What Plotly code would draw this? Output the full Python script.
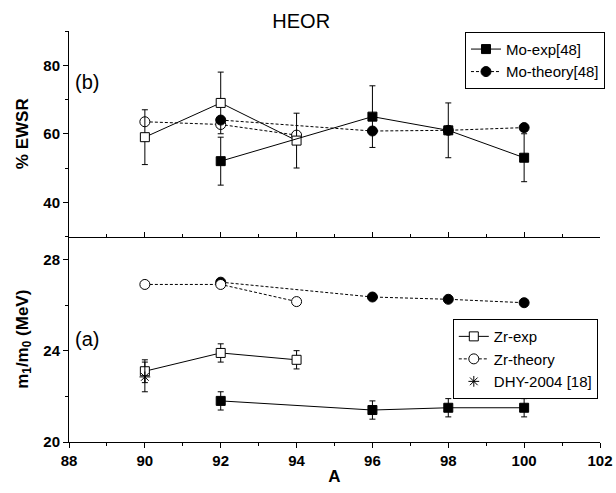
import plotly.graph_objects as go

# ---- data ----
# top panel: % EWSR
zr_A = [90, 92, 94]
zr_ewsr_exp = [59, 69, 58]
zr_ewsr_err = [8, 9, 8]
zr_ewsr_th = [63.5, 62.7, 59.6]

mo_A = [92, 96, 98, 100]
mo_ewsr_exp = [52, 65, 61, 53]
mo_ewsr_err = [7, 9, 8, 7]
mo_ewsr_th = [64, 60.8, 61, 61.8]

# bottom panel: m1/m0 (MeV)
zr_m_exp = [23.1, 23.9, 23.6]
zr_m_err = [0.5, 0.4, 0.4]
zr_m_th = [26.9, 26.9, 26.15]

mo_m_exp = [21.8, 21.4, 21.5, 21.5]
mo_m_err = [0.4, 0.4, 0.4, 0.4]
mo_m_th = [27.0, 26.35, 26.25, 26.1]

dhy_A = [90]
dhy_m = [22.85]
dhy_err = [0.65]

x_ticks = [88, 90, 92, 94, 96, 98, 100, 102]
ewsr_ticks = [40, 60, 80]
m_ticks = [20, 24, 28]

FONT = "Liberation Sans"
BLK = "black"
DASH = "3px,2px"

fig = go.Figure()


def add(x, y, err, sym, fill, dash, name, legend, show, ax):
    fig.add_trace(go.Scatter(
        x=x, y=y, mode="lines+markers", name=name,
        legendgroup=name, showlegend=show, legend=legend,
        line=dict(color=BLK, width=1, dash=dash),
        marker=dict(symbol=sym, size=9 if "square" in sym else 10, color=fill,
                    line=dict(color=BLK, width=1)),
        error_y=dict(type="data", array=err, visible=err is not None,
                     color=BLK, thickness=1, width=3),
        xaxis="x" if ax == "bot" else "x2",
        yaxis="y" if ax == "bot" else "y2",
    ))


# top panel
add(zr_A, zr_ewsr_th, None, "circle", "white", DASH, "Zr-theory", "legend2", False, "top")
add(mo_A, mo_ewsr_th, None, "circle", BLK, DASH, "Mo-theory[48]", "legend", False, "top")
add(zr_A, zr_ewsr_exp, zr_ewsr_err, "square", "white", "solid", "Zr-exp", "legend2", False, "top")
add(mo_A, mo_ewsr_exp, mo_ewsr_err, "square", BLK, "solid", "Mo-exp[48]", "legend", False, "top")

# bottom panel
add(mo_A, mo_m_exp, mo_m_err, "square", BLK, "solid", "Mo-exp[48]", "legend", True, "bot")
add(mo_A, mo_m_th, None, "circle", BLK, DASH, "Mo-theory[48]", "legend", True, "bot")
add(zr_A, zr_m_exp, zr_m_err, "square", "white", "solid", "Zr-exp", "legend2", True, "bot")
add(zr_A, zr_m_th, None, "circle", "white", DASH, "Zr-theory", "legend2", True, "bot")

fig.add_trace(go.Scatter(
    x=dhy_A, y=dhy_m, mode="markers", name="DHY-2004 [18]", legend="legend2",
    marker=dict(symbol="asterisk-open", size=9, color=BLK, line=dict(color=BLK, width=1)),
    error_y=dict(type="data", array=dhy_err, color=BLK, thickness=1, width=3),
    xaxis="x", yaxis="y",
))


def bold(vals):
    return ["<b>%d</b>" % v for v in vals]


tickfont = dict(family=FONT, size=15, color=BLK)
axis_common = dict(showline=True, linecolor=BLK, linewidth=1, showgrid=False,
                   zeroline=False, ticklen=5, tickwidth=1, tickcolor=BLK,
                   tickfont=tickfont, automargin=False)

fig.update_layout(
    width=616, height=493,
    margin=dict(l=69, r=15, t=31, b=51),
    paper_bgcolor="white", plot_bgcolor="white",
    font=dict(family=FONT, color=BLK),
    title=dict(text="HEOR", x=0.489, xanchor="center", y=0.957, yanchor="middle",
               automargin=False, font=dict(family=FONT, size=20, color=BLK)),
    xaxis=dict(**axis_common, range=[88, 102], tickvals=x_ticks, ticktext=bold(x_ticks),
               ticks="outside",
               minor=dict(dtick=1, ticks="outside", ticklen=3, tickcolor=BLK),
               title=dict(text="<b>A</b>", font=dict(family=FONT, size=17), standoff=2),
               anchor="y"),
    xaxis2=dict(**axis_common, range=[88, 102], dtick=2, ticks="inside", matches="x",
                minor=dict(dtick=1, ticks="inside", ticklen=3, tickcolor=BLK),
                showticklabels=False, anchor="y2"),
    yaxis=dict(**axis_common, range=[20, 29], tickvals=m_ticks, ticktext=bold(m_ticks),
               ticks="outside",
               minor=dict(dtick=2, ticks="outside", ticklen=3, tickcolor=BLK),
               domain=[0, 0.5], anchor="x",
               title=dict(text="<b>m<sub>1</sub>/m<sub>0</sub> (MeV)</b>",
                          font=dict(family=FONT, size=17), standoff=10)),
    yaxis2=dict(**axis_common, range=[30, 90], tickvals=ewsr_ticks, ticktext=bold(ewsr_ticks),
                ticks="outside",
                minor=dict(dtick=10, ticks="outside", ticklen=3, tickcolor=BLK),
                domain=[0.5, 1], anchor="x2",
                title=dict(text="<b>% EWSR</b>", font=dict(family=FONT, size=17),
                           standoff=10)),
    legend=dict(x=1.0075, xanchor="right", y=0.998, yanchor="top",
                bordercolor=BLK, borderwidth=1, bgcolor="white",
                font=dict(family=FONT, size=15, color=BLK),
                tracegroupgap=0, itemsizing="trace"),
    legend2=dict(x=0.994, xanchor="right", y=0.299, yanchor="top",
                 bordercolor=BLK, borderwidth=1, bgcolor="white",
                 font=dict(family=FONT, size=15, color=BLK),
                 tracegroupgap=0, itemsizing="trace"),
)

fig.add_annotation(text="(b)", x=0.007, xref="paper", y=75, yref="y2", xanchor="left",
                   showarrow=False, font=dict(family=FONT, size=20, color=BLK))
fig.add_annotation(text="(a)", x=0.007, xref="paper", y=24.5, yref="y", xanchor="left",
                   showarrow=False, font=dict(family=FONT, size=20, color=BLK))

# page body has an 8px default margin, drop it so the figure fills the window
fig.write_html("out.html", config={"displayModeBar": False},
               post_script="document.body.style.margin='0';")
